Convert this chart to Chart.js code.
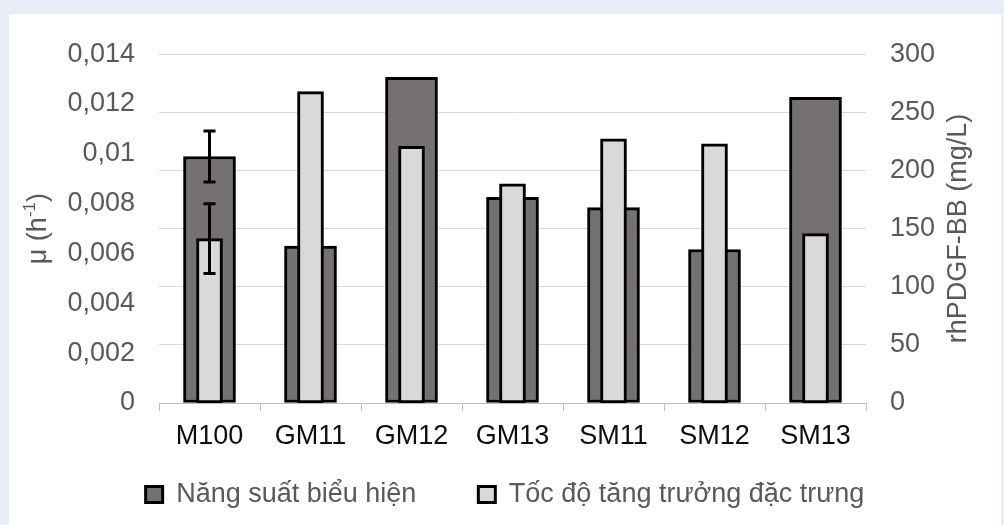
<!DOCTYPE html>
<html>
<head>
<meta charset="utf-8">
<script src="https://cdn.jsdelivr.net/npm/chart.js@4"></script>
<style>
  html, body { margin: 0; padding: 0; background: #e8edf7; width: 1004px; height: 525px; overflow: hidden; }
  #panel { position: absolute; left: 9px; top: 14px; width: 992px; height: 511px; background: #fff; }
  canvas { display: block; }
</style>
</head>
<body>
<div id="panel"><canvas id="chart" width="992" height="511"></canvas></div>
<script>
// categories (strains / media)
const categories = ['M100', 'GM11', 'GM12', 'GM13', 'SM11', 'SM12', 'SM13'];

// rhPDGF-BB productivity, mg/L (right axis)
const productivity = [212, 135, 280, 177, 168, 132, 263];
const productivityErr = [22, 0, 0, 0, 0, 0, 0];

// specific growth rate mu, 1/h (left axis)
const growthRate = [0.0066, 0.0125, 0.0103, 0.0088, 0.0106, 0.0104, 0.0068];
const growthRateErr = [0.0014, 0, 0, 0, 0, 0, 0];

const leftTicks = [0, 0.002, 0.004, 0.006, 0.008, 0.01, 0.012, 0.014];
const rightTicks = [0, 50, 100, 150, 200, 250, 300];

const FONT = 'Liberation Sans, Arial, sans-serif';
const GREY = '#595959';

// error bars drawn from the dataset's own scale
const errorBars = {
  id: 'errorBars',
  afterDatasetsDraw(chart) {
    const ctx = chart.ctx;
    chart.data.datasets.forEach((ds, i) => {
      if (!ds.errors) return;
      const meta = chart.getDatasetMeta(i);
      const scale = chart.scales[ds.yAxisID];
      meta.data.forEach((bar, j) => {
        const e = ds.errors[j];
        if (!e) return;
        const v = ds.data[j];
        const yTop = scale.getPixelForValue(v + e);
        const yBot = scale.getPixelForValue(v - e);
        ctx.save();
        ctx.strokeStyle = '#000';
        ctx.lineWidth = 3;
        ctx.beginPath();
        ctx.moveTo(bar.x, yTop); ctx.lineTo(bar.x, yBot);
        ctx.moveTo(bar.x - 6, yTop); ctx.lineTo(bar.x + 6, yTop);
        ctx.moveTo(bar.x - 6, yBot); ctx.lineTo(bar.x + 6, yBot);
        ctx.stroke();
        ctx.restore();
      });
    });
  }
};

// the legend keeps its wide item spacing but sits closer under the axis labels
const legendShift = {
  id: 'legendShift',
  afterLayout(chart) {
    const lg = chart.legend;
    lg.top = chart.chartArea.bottom + 16;
    lg.bottom = chart.height;
    lg.height = lg.bottom - lg.top;
  }
};

// axis titles, both read bottom-to-top, left one with superscript
const axisTitles = {
  id: 'axisTitles',
  afterDraw(chart) {
    const ctx = chart.ctx;
    const a = chart.chartArea;
    const cy = (a.top + a.bottom) / 2;
    ctx.save();
    ctx.fillStyle = GREY;
    ctx.textBaseline = 'middle';

    // left: μ (h-1)
    ctx.save();
    ctx.translate(a.left - 120, cy);
    ctx.rotate(-Math.PI / 2);
    const big = '27px ' + FONT, small = '17px ' + FONT;
    ctx.font = big;
    const p1 = 'μ (h', p3 = ')';
    ctx.font = small; const w2 = ctx.measureText('-1').width;
    ctx.font = big;
    const w1 = ctx.measureText(p1).width, w3 = ctx.measureText(p3).width;
    let x = -(w1 + w2 + w3) / 2;
    ctx.textAlign = 'left';
    ctx.fillText(p1, x, 0); x += w1;
    ctx.font = small; ctx.fillText('-1', x, -9); x += w2;
    ctx.font = big; ctx.fillText(p3, x, 0);
    ctx.restore();

    // right: rhPDGF-BB (mg/L)
    ctx.save();
    ctx.translate(a.right + 93, cy);
    ctx.rotate(-Math.PI / 2);
    ctx.font = big;
    ctx.textAlign = 'center';
    ctx.fillText('rhPDGF-BB (mg/L)', 0, 0);
    ctx.restore();

    ctx.restore();
  }
};

new Chart(document.getElementById('chart'), {
  type: 'bar',
  data: {
    labels: categories,
    datasets: [
      {
        label: 'Năng suất biểu hiện',
        data: productivity,
        errors: productivityErr,
        yAxisID: 'y1',
        backgroundColor: '#767171',
        borderColor: '#000',
        borderWidth: 3,
        borderSkipped: false,
        barThickness: 52,
        grouped: false,
        order: 1
      },
      {
        label: 'Tốc độ tăng trưởng đặc trưng',
        data: growthRate,
        errors: growthRateErr,
        yAxisID: 'y',
        backgroundColor: '#d9d9d9',
        borderColor: '#000',
        borderWidth: 3,
        borderSkipped: false,
        barThickness: 26,
        grouped: false,
        order: 0
      }
    ]
  },
  options: {
    responsive: false,
    devicePixelRatio: 1,
    animation: false,
    layout: { padding: { top: 29, bottom: 0, left: 0, right: 0 } },
    plugins: {
      tooltip: { enabled: false },
      legend: {
        position: 'bottom',
        maxHeight: 70,
        labels: {
          font: { family: FONT, size: 27 },
          color: GREY,
          boxWidth: 17,
          boxHeight: 16,
          padding: 62,
          sort: (a, b) => a.datasetIndex - b.datasetIndex
        }
      }
    },
    scales: {
      x: {
        grid: { drawOnChartArea: false, drawTicks: true, tickLength: 8, color: '#bfbfbf', offset: true },
        border: { color: '#bfbfbf', width: 1 },
        ticks: { font: { family: FONT, size: 27 }, color: '#0d0d0d', padding: 9, maxRotation: 0 },
        afterFit: s => { s.height = 52; }
      },
      y: {
        position: 'left',
        min: 0,
        max: 0.014,
        afterBuildTicks: s => { s.ticks = leftTicks.map(v => ({ value: v })); },
        grid: { display: false, drawTicks: false },
        border: { display: false },
        ticks: {
          font: { family: FONT, size: 27 },
          color: GREY,
          padding: 24,
          callback: v => String(v).replace('.', ',')
        },
        afterFit: s => { s.width = 150; }
      },
      y1: {
        position: 'right',
        min: 0,
        max: 300,
        afterBuildTicks: s => { s.ticks = rightTicks.map(v => ({ value: v })); },
        grid: { color: '#d9d9d9', lineWidth: 1, drawTicks: false },
        border: { display: false },
        ticks: { font: { family: FONT, size: 27 }, color: GREY, padding: 24 },
        afterFit: s => { s.width = 135; }
      }
    }
  },
  plugins: [errorBars, legendShift, axisTitles]
});
</script>
</body>
</html>
